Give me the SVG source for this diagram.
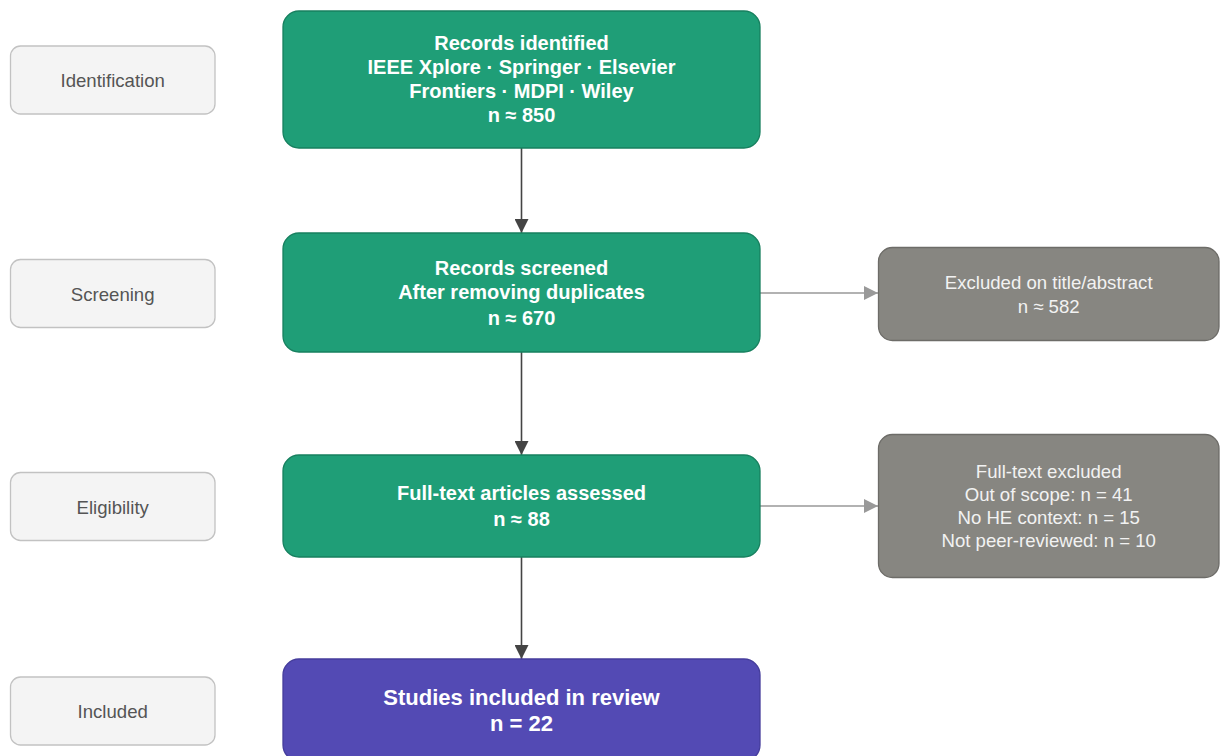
<svg xmlns="http://www.w3.org/2000/svg" width="1220" height="756" viewBox="0 0 1220 756">
<defs>
<style>
.stage rect{fill:#f4f4f4;stroke:#c2c2c2;stroke-width:1.3}
.stage text{font-family:"Liberation Sans",Arial,sans-serif;font-size:18.6px;fill:#555;text-anchor:middle}
.main rect{fill:#1f9e77;stroke:#17805f;stroke-width:1.3}
.main text{font-family:"Liberation Sans",Arial,sans-serif;font-size:20px;font-weight:bold;fill:#fff;text-anchor:middle}
.incl rect{fill:#534ab4;stroke:#453d9c;stroke-width:1.3}
.incl text{font-family:"Liberation Sans",Arial,sans-serif;font-size:22px;font-weight:bold;fill:#fff;text-anchor:middle}
.excl rect{fill:#878681;stroke:#6d6c68;stroke-width:1.3}
.excl text{font-family:"Liberation Sans",Arial,sans-serif;font-size:18.6px;fill:#f2f2f2;text-anchor:middle}
.down{stroke:#444;stroke-width:1.6;fill:none}
.side{stroke:#999;stroke-width:1.6;fill:none}
</style>
<marker id="ad" markerWidth="14" markerHeight="14" refX="14" refY="7" orient="auto" markerUnits="userSpaceOnUse">
<path d="M0,0 L14,7 L0,14 Z" fill="#444"/>
</marker>
<marker id="as" markerWidth="14" markerHeight="14" refX="14" refY="7" orient="auto" markerUnits="userSpaceOnUse">
<path d="M0,0 L14,7 L0,14 Z" fill="#999"/>
</marker>
</defs>
<rect width="1220" height="756" fill="#fff"/>

<g id="connectors">
<line class="down" x1="521.5" y1="148" x2="521.5" y2="233" marker-end="url(#ad)"/>
<line class="down" x1="521.5" y1="352" x2="521.5" y2="455" marker-end="url(#ad)"/>
<line class="down" x1="521.5" y1="557" x2="521.5" y2="659" marker-end="url(#ad)"/>
<line class="side" x1="760" y1="293" x2="878" y2="293" marker-end="url(#as)"/>
<line class="side" x1="760" y1="506" x2="878" y2="506" marker-end="url(#as)"/>
</g>

<g id="stage-identification" class="stage">
<rect x="10.5" y="46" width="204.5" height="68" rx="10"/>
<text x="112.7" y="87">Identification</text>
</g>
<g id="stage-screening" class="stage">
<rect x="10.5" y="259.5" width="204.5" height="68" rx="10"/>
<text x="112.7" y="300.5">Screening</text>
</g>
<g id="stage-eligibility" class="stage">
<rect x="10.5" y="472.5" width="204.5" height="68" rx="10"/>
<text x="112.7" y="513.5">Eligibility</text>
</g>
<g id="stage-included" class="stage">
<rect x="10.5" y="677" width="204.5" height="68" rx="10"/>
<text x="112.7" y="718">Included</text>
</g>

<g id="node-identified" class="main">
<rect x="283" y="11" width="477" height="137" rx="16"/>
<text x="521.5" y="50">Records identified</text>
<text x="521.5" y="74">IEEE Xplore · Springer · Elsevier</text>
<text x="521.5" y="98">Frontiers · MDPI · Wiley</text>
<text x="521.5" y="122">n ≈ 850</text>
</g>

<g id="node-screened" class="main">
<rect x="283" y="233" width="477" height="119" rx="16"/>
<text x="521.5" y="275">Records screened</text>
<text x="521.5" y="299">After removing duplicates</text>
<text x="521.5" y="325">n ≈ 670</text>
</g>

<g id="node-fulltext" class="main">
<rect x="283" y="455" width="477" height="102" rx="16"/>
<text x="521.5" y="500">Full-text articles assessed</text>
<text x="521.5" y="526">n ≈ 88</text>
</g>

<g id="node-included" class="incl">
<rect x="283" y="659" width="477" height="102" rx="16"/>
<text x="521.5" y="705">Studies included in review</text>
<text x="521.5" y="731">n = 22</text>
</g>

<g id="node-excl-title" class="excl">
<rect x="878.5" y="247.5" width="340.5" height="93" rx="14"/>
<text x="1048.7" y="288.5">Excluded on title/abstract</text>
<text x="1048.7" y="312.5">n ≈ 582</text>
</g>

<g id="node-excl-fulltext" class="excl">
<rect x="878.5" y="434.5" width="340.5" height="143" rx="14"/>
<text x="1048.7" y="477.5">Full-text excluded</text>
<text x="1048.7" y="500.5">Out of scope: n = 41</text>
<text x="1048.7" y="523.5">No HE context: n = 15</text>
<text x="1048.7" y="546.5">Not peer-reviewed: n = 10</text>
</g>
</svg>
